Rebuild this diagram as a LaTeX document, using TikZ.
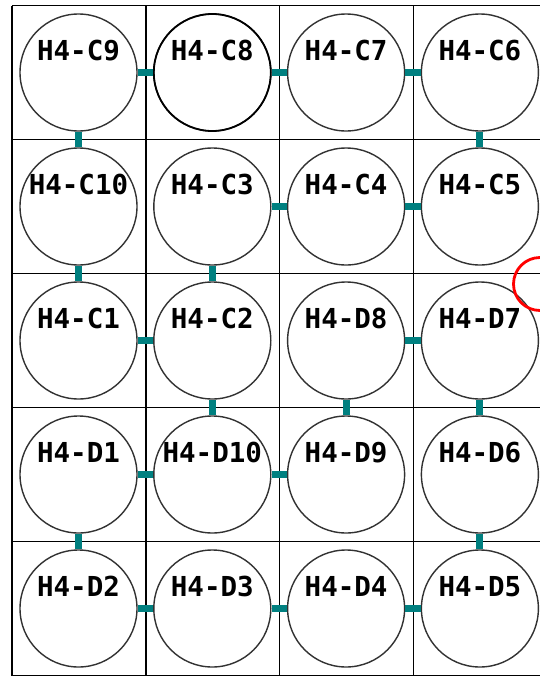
\documentclass[tikz,border=0pt]{standalone}
\usepackage{fontspec}
\newfontfamily\labfont{DejaVu Sans Mono}[BoldFont={DejaVu Sans Mono Bold}]
\definecolor{barteal}{RGB}{0,128,128}
\definecolor{ringgray}{RGB}{50,50,50}
\begin{document}
\begin{tikzpicture}[x=1pt,y=-1pt,
  well/.style={circle, draw=ringgray, line width=1.4pt, minimum size=117pt, inner sep=0pt},
  selwell/.style={well, draw=black, line width=1.8pt},
  lab/.style={font=\labfont\bfseries\fontsize{27.5}{30}\selectfont, inner sep=0pt, anchor=center},
  bar/.style={draw=barteal, line width=7pt},
  gridline/.style={draw=black, line width=1.6pt}]
\useasboundingbox (0,0) rectangle (540,678);
\fill[white] (0,0) rectangle (540,678);
% grid
\foreach \y in {5.5,139.5,273.5,407.5,541.5,675.5}
  \draw[gridline] (12,\y) -- (560,\y);
\foreach \x in {12,145.8,279.6,413.4}
  \draw[gridline] (\x,5.5) -- (\x,675.5);
% wells
\foreach \n/\c/\r in {C9/0/0,C8/1/0,C7/2/0,C6/3/0,
                       C10/0/1,C3/1/1,C4/2/1,C5/3/1,
                       C1/0/2,C2/1/2,D8/2/2,D7/3/2,
                       D1/0/3,D10/1/3,D9/2/3,D6/3/3,
                       D2/0/4,D3/1/4,D4/2/4,D5/3/4}{
  \node[well] (\n) at ({78.5+133.8*\c},{72.5+134*\r}) {};
  \node[lab] (l\n) at ({78.5+133.8*\c},{50.5+134*\r}) {H4-\n};
}
\node[selwell] (C8b) at (C8) {};
% connectors
\foreach \a/\b in {C9/C8,C8/C7,C7/C6,C3/C4,C4/C5,C1/C2,D8/D7,D1/D10,D10/D9,D2/D3,D3/D4,D4/D5,
                   C9/C10,C6/C5,C10/C1,C3/C2,C2/D10,D8/D9,D7/D6,D1/D2,D6/D5}
  \draw[bar] (\a) -- (\b);
% red marker
\node[circle, draw=red, line width=2.8pt, minimum size=53pt, inner sep=0pt] (redmark) at (540,284) {};
\end{tikzpicture}
\end{document}
